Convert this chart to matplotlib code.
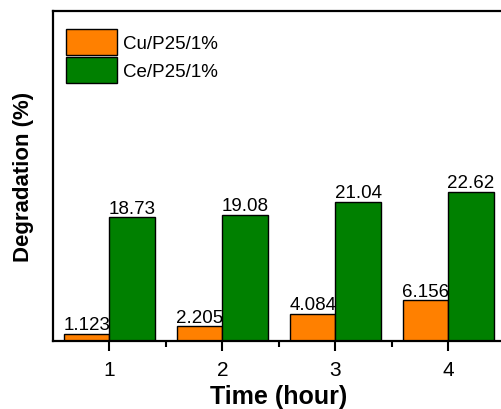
import matplotlib
matplotlib.use("Agg")
import matplotlib.pyplot as plt
import numpy as np

plt.rcParams['font.family'] = ['Liberation Sans', 'DejaVu Sans']

hours = [1, 2, 3, 4]
tick_labels = ['1', '2', '3', '4']
cu_values = [1.123, 2.205, 4.084, 6.156]
ce_values = [18.73, 19.08, 21.04, 22.62]
cu_labels = ['1.123', '2.205', '4.084', '6.156']
ce_labels = ['18.73', '19.08', '21.04', '22.62']

fig = plt.figure(figsize=(5.02, 4.10), dpi=100)
ax = fig.add_axes([53/502, 68/410, 452/502, 330/410])

x = np.array(hours, dtype=float)
w = 0.4
b1 = ax.bar(x - w/2, cu_values, w, color='#FF8000', edgecolor='black', linewidth=1.0, label='Cu/P25/1%')
b2 = ax.bar(x + w/2, ce_values, w, color='#008000', edgecolor='black', linewidth=1.0, label='Ce/P25/1%')

for bars, labs in ((b1, cu_labels), (b2, ce_labels)):
    for r, t in zip(bars, labs):
        ax.annotate(t, (r.get_x() + r.get_width()/2, r.get_height()),
                    xytext=(0, 0.5), textcoords='offset points',
                    ha='center', va='bottom', fontsize=13.5)

ax.set_xlim(0.5, 4.5)
ax.set_ylim(0, 50)
ax.set_xticks(x)
ax.set_xticklabels(tick_labels, fontsize=15)
ax.set_xticks([1.5, 2.5, 3.5], minor=True)
ax.set_yticks([])
ax.tick_params(axis='x', which='major', direction='out', length=7, width=1.5, pad=7)
ax.tick_params(axis='x', which='minor', direction='out', length=4, width=1.5)
for s in ax.spines.values():
    s.set_linewidth(1.6)

ax.set_xlabel('Time (hour)', fontsize=18, fontweight='bold', labelpad=3)
ax.set_ylabel('Degradation (%)', fontsize=16, fontweight='bold', labelpad=14)

leg = ax.legend(loc='upper left', bbox_to_anchor=(-0.011, 1.0), fontsize=13.5, frameon=False,
                handlelength=2.75, handleheight=1.75, handletextpad=0.3, labelspacing=0.1,
                borderaxespad=0.55, borderpad=0.4)

fig.savefig('out.png', dpi=100)
